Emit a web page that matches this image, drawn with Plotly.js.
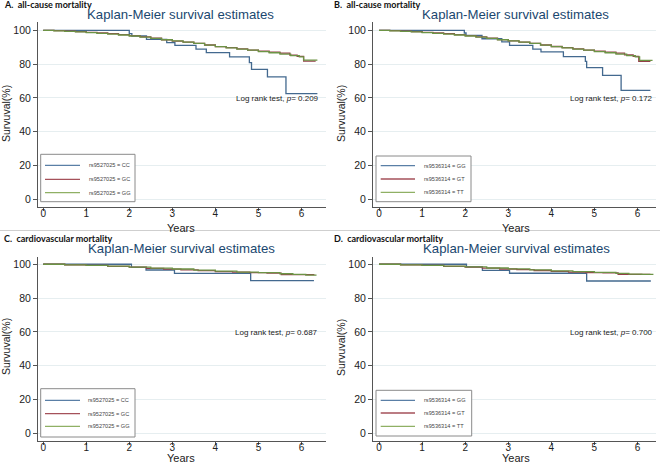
<!DOCTYPE html>
<html><head><meta charset="utf-8">
<script src="https://cdn.plot.ly/plotly-3.0.1.min.js"></script>
<style>html,body{margin:0;padding:0;background:#fff}#chart{width:660px;height:465px}</style>
</head><body><div id="chart"></div>
<script>
// ---------- text ----------
const panelLabels = ['A.&nbsp; all-cause mortality','B.&nbsp; all-cause mortality','C.&nbsp; cardiovascular mortality','D.&nbsp; cardiovascular mortality'];
const plotTitle = 'Kaplan-Meier survival estimates';
const xTitle = 'Years';
const yTitle = 'Survuval(%)';
const logRankP = ['0.209','0.172','0.687','0.700'];
const namesAC = ['rs9527025 = CC','rs9527025 = GC','rs9527025 = GG'];
const namesBD = ['rs9536314 = GG','rs9536314 = GT','rs9536314 = TT'];
const xTicks = [0,1,2,3,4,5,6];
const yTicks = [0,20,40,60,80,100];

// ---------- Panel A (all-cause, rs9527025) ----------
const aCC_t = [0,2.0,2.06,2.4,2.87,3.06,3.55,3.79,4.33,4.79,4.84,5.21,5.64,6.37];
const aCC_s = [100,98.0,96.6,94.6,92.7,91.1,88.8,86.8,84.2,80.8,76.9,72.4,62.5,62.5];
const aGC_t = [0,0.25,0.5,0.75,1.0,1.25,1.5,1.75,2.0,2.25,2.5,2.75,3.0,3.25,3.5,3.75,4.0,4.25,4.5,4.75,5.0,5.25,5.5,5.73,5.9,6.05,6.33];
const aGC_s = [100,99.8,99.5,99.2,98.8,98.4,98.0,97.4,96.8,96.1,95.3,94.4,93.6,93.0,92.3,91.3,90.3,89.7,89.0,88.3,87.6,87.0,86.5,85.3,84.6,81.8,81.8];
const aGG_t = [0,0.25,0.5,0.75,1.0,1.25,1.5,1.75,2.0,2.25,2.5,2.75,3.0,3.25,3.5,3.75,4.0,4.25,4.5,4.75,5.0,5.25,5.5,5.75,5.95,6.05,6.37];
const aGG_s = [100,99.7,99.4,99.0,98.6,98.2,97.7,97.2,96.6,96.0,95.2,94.4,93.7,93.0,92.2,91.2,90.3,89.6,88.9,88.2,87.4,86.7,85.9,85.0,84.2,82.3,82.3];

// ---------- Panel B (all-cause, rs9536314) ----------
const bGG_t = [0,1.98,2.02,2.39,2.85,3.03,3.57,3.76,4.28,4.79,4.82,5.19,5.62,6.3];
const bGG_s = [100,98.4,97.0,95.0,93.1,91.1,88.8,87.2,84.4,81.6,77.9,73.3,64.4,64.4];
const bGT_t = [0,0.25,0.5,0.75,1.0,1.25,1.5,1.75,2.0,2.25,2.5,2.75,3.0,3.25,3.5,3.75,4.0,4.25,4.5,4.75,5.0,5.25,5.5,5.7,5.9,6.03,6.3];
const bGT_s = [100,99.8,99.5,99.2,98.8,98.4,98.0,97.4,96.8,96.1,95.3,94.5,93.7,93.0,92.3,91.3,90.4,89.7,89.0,88.3,87.6,87.0,86.5,85.5,84.6,81.6,81.6];
const bTT_t = [0,0.25,0.5,0.75,1.0,1.25,1.5,1.75,2.0,2.25,2.5,2.75,3.0,3.25,3.5,3.75,4.0,4.25,4.5,4.75,5.0,5.25,5.5,5.75,5.95,6.05,6.35];
const bTT_s = [100,99.7,99.4,99.0,98.6,98.2,97.7,97.2,96.6,96.0,95.2,94.4,93.7,93.0,92.2,91.2,90.3,89.6,88.9,88.2,87.4,86.7,85.9,85.0,84.2,82.2,82.2];

// ---------- Panel C (cardiovascular, rs9527025) ----------
const cCC_t = [0,2.05,2.39,3.05,4.82,6.29];
const cCC_s = [100,98.2,96.6,94.6,90.3,90.3];
const cGC_t = [0,0.5,1.0,1.5,2.0,2.4,2.8,3.2,3.6,4.0,4.4,4.8,5.2,5.53,6.3];
const cGC_s = [100,99.7,99.3,98.8,98.3,97.6,97.1,96.7,96.2,95.7,95.3,95.0,94.8,93.9,93.9];
const cGG_t = [0,0.5,1.0,1.5,2.0,2.5,3.0,3.5,4.0,4.5,5.0,5.5,5.8,6.1,6.35];
const cGG_s = [100,99.7,99.4,98.9,98.3,97.7,97.2,96.5,95.9,95.4,95.1,94.4,94.0,93.6,93.6];

// ---------- Panel D (cardiovascular, rs9536314) ----------
const dGG_t = [0,2.03,2.4,3.03,4.82,6.31];
const dGG_s = [100,98.4,96.4,94.7,90.1,90.1];
const dGT_t = [0,0.5,1.0,1.5,2.0,2.4,2.8,3.2,3.6,4.0,4.4,4.8,5.2,5.55,6.3];
const dGT_s = [100,99.7,99.3,98.8,98.3,97.7,97.2,96.8,96.3,95.8,95.4,95.1,94.9,94.0,94.0];
const dTT_t = [0,0.5,1.0,1.5,2.0,2.5,3.0,3.5,4.0,4.5,5.0,5.5,5.8,6.1,6.37];
const dTT_s = [100,99.7,99.4,98.9,98.4,97.8,97.3,96.7,96.1,95.6,95.2,94.6,94.2,94.0,94.0];

// ---------- build ----------
const W = 660, H = 465;
const colors = ['#43698f','#934049','#6c9445'];
const legColors = ['#5a7fa6','#a5515a','#8fb064'];
const FONT = 'Liberation Sans, Arial, sans-serif';

const panels = [
  {t:[aCC_t,aGC_t,aGG_t], s:[aCC_s,aGC_s,aGG_s], names:namesAC},
  {t:[bGG_t,bGT_t,bTT_t], s:[bGG_s,bGT_s,bTT_s], names:namesBD},
  {t:[cCC_t,cGC_t,cGG_t], s:[cCC_s,cGC_s,cGG_s], names:namesAC},
  {t:[dGG_t,dGT_t,dTT_t], s:[dGG_s,dGT_s,dTT_s], names:namesBD}
];

// pixel geometry
const colX = [{l:38,r:326,range:[-0.12,6.57]},{l:373,r:656,range:[-0.14,6.43]}];
const rowY = [{t:22,b:207,range:[-4.6,104.9]},{t:257,b:441,range:[-4.56,104.3]}];
const legendBox = [
  {l:40.7,t:154.3,r:135,b:201.7,rows:[165.3,179.3,192.7],lx:[45,80],tx:87},
  {l:376,t:156,r:471,b:201.7,rows:[165.7,179,192.3],lx:[380.7,415],tx:421.7},
  {l:40.7,t:388.7,r:135,b:437,rows:[400.3,413.7,426.3],lx:[45,80],tx:86},
  {l:376,t:390.3,r:471.7,b:436,rows:[400.3,413,426.3],lx:[380.7,415],tx:421.7}
];
const titlePos = [[180,15],[515,15],[181,248.7],[516,248.7]];
const labelPos = [[2,5],[332,5],[2,238],[332,238]];
const logPos = [[6.45,59.9],[6.41,59.9],[6.43,59.9],[6.41,59.9]];
const xTitlePos = [[180.5,228],[515.5,228],[180.5,458.3],[515.5,458.3]];
const yTitlePos = [[6,114],[341,114],[6,347],[341,348]];

const px = v => v / W;
const py = v => 1 - v / H;

const data = [];
const layout = {
  width: W, height: H,
  margin: {l:0,r:0,t:0,b:0},
  paper_bgcolor: '#fff', plot_bgcolor: '#fff',
  showlegend: false,
  font: {family: FONT, color: '#222'},
  annotations: [], shapes: []
};

panels.forEach((p, i) => {
  const col = i % 2, row = Math.floor(i / 2);
  const n = i + 1;
  const xa = 'xaxis' + (n === 1 ? '' : n), ya = 'yaxis' + (n === 1 ? '' : n);
  const xr = 'x' + (n === 1 ? '' : n), yr = 'y' + (n === 1 ? '' : n);
  const cx = colX[col], ry = rowY[row];
  layout[xa] = {
    domain: [px(cx.l), px(cx.r)], range: cx.range, anchor: yr,
    showline: true, linecolor: '#555', linewidth: 1, mirror: false,
    ticks: 'outside', ticklen: 3, tickcolor: '#555', tickwidth: 1,
    tickvals: xTicks, ticktext: xTicks.map(String), ticklabelstandoff: -6,
    tickfont: {family: FONT, size: 10, color: '#222'},
    showgrid: false, zeroline: false, fixedrange: true
  };
  layout[ya] = {
    domain: [py(ry.b), py(ry.t)], range: ry.range, anchor: xr,
    showline: true, linecolor: '#555', linewidth: 1,
    ticks: 'outside', ticklen: 4, tickcolor: '#555', tickwidth: 1,
    tickvals: yTicks, ticktext: yTicks.map(String),
    tickfont: {family: FONT, size: 10.5, color: '#222'},
    showgrid: true, gridcolor: '#e6eef0', gridwidth: 1, zeroline: false, fixedrange: true
  };
  for (let k = 0; k < 3; k++) {
    data.push({
      type: 'scatter', mode: 'lines', x: p.t[k], y: p.s[k], name: p.names[k],
      xaxis: xr, yaxis: yr, line: {shape: 'hv', color: colors[k], width: 1.3},
      hoverinfo: 'skip'
    });
  }
  // axis titles
  layout.annotations.push({
    xref: 'paper', yref: 'paper', x: px(xTitlePos[i][0]), y: py(xTitlePos[i][1]),
    xanchor: 'center', yanchor: 'middle', showarrow: false,
    text: xTitle, font: {family: FONT, size: 11, color: '#222'}
  });
  layout.annotations.push({
    xref: 'paper', yref: 'paper', x: px(yTitlePos[i][0]), y: py(yTitlePos[i][1]),
    xanchor: 'center', yanchor: 'middle', showarrow: false, textangle: -90,
    text: yTitle, font: {family: FONT, size: 10.5, color: '#222'}
  });
  // titles
  layout.annotations.push({
    xref: 'paper', yref: 'paper', x: px(titlePos[i][0]), y: py(titlePos[i][1]),
    xanchor: 'center', yanchor: 'middle', showarrow: false,
    text: plotTitle, font: {family: FONT, size: 13.2, color: '#1a476f'}
  });
  layout.annotations.push({
    xref: 'paper', yref: 'paper', x: px(labelPos[i][0]), y: py(labelPos[i][1]),
    xanchor: 'left', yanchor: 'middle', showarrow: false,
    text: '<b>' + panelLabels[i] + '</b>', font: {family: 'Lato, Open Sans, sans-serif', size: 9, color: '#111'}
  });
  layout.annotations.push({
    xref: xr, yref: yr, x: logPos[i][0], y: logPos[i][1],
    xanchor: 'right', yanchor: 'middle', showarrow: false,
    text: 'Log rank test, <i>p</i>= ' + logRankP[i], font: {family: FONT, size: 8, color: '#222'}
  });
  // legend box
  const lb = legendBox[i];
  layout.shapes.push({type: 'rect', xref: 'paper', yref: 'paper',
    x0: px(lb.l), x1: px(lb.r), y0: py(lb.b), y1: py(lb.t),
    line: {color: '#8a8a8a', width: 1}, fillcolor: '#fff', layer: 'above'});
  for (let k = 0; k < 3; k++) {
    layout.shapes.push({type: 'line', xref: 'paper', yref: 'paper',
      x0: px(lb.lx[0]), x1: px(lb.lx[1]), y0: py(lb.rows[k]), y1: py(lb.rows[k]),
      line: {color: legColors[k], width: 1.3}, layer: 'above'});
    layout.annotations.push({
      xref: 'paper', yref: 'paper', x: px(lb.tx), y: py(lb.rows[k]),
      xanchor: 'left', yanchor: 'middle', showarrow: false,
      text: p.names[k], font: {family: FONT, size: 5.6, color: '#444'}
    });
  }
});
// separator between rows
layout.shapes.push({type: 'line', xref: 'paper', yref: 'paper', x0: 0, x1: 1,
  y0: py(230.5), y1: py(230.5), line: {color: '#cfcfcf', width: 1}});

Plotly.newPlot('chart', data, layout, {displayModeBar: false, staticPlot: true});
</script>
</body></html>
